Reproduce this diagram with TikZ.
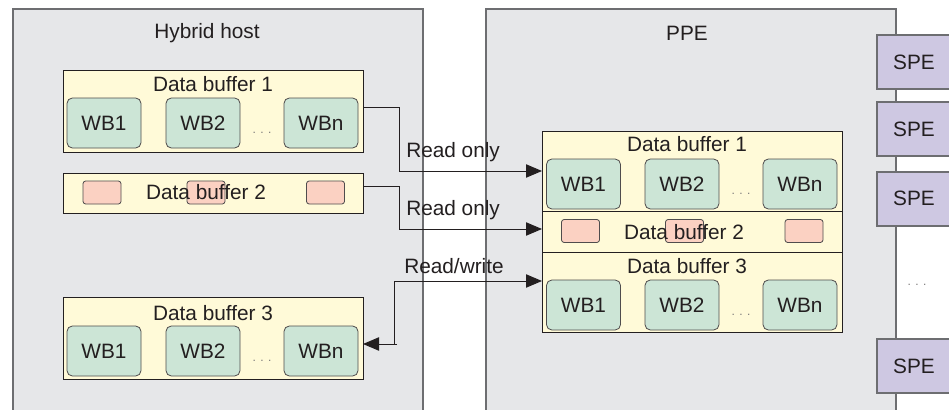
\documentclass[tikz,border=0pt]{standalone}
\usepackage{fontspec}
\setmainfont{Liberation Sans}
\usetikzlibrary{arrows.meta}
\definecolor{bggray}{HTML}{E6E7E9}
\definecolor{bordergray}{HTML}{6D6E71}
\definecolor{bufyellow}{HTML}{FFFAD8}
\definecolor{wbgreen}{HTML}{CCE5D6}
\definecolor{pinkbox}{HTML}{FBD1C2}
\definecolor{spepurple}{HTML}{CEC8E2}
\definecolor{txt}{HTML}{231F20}
\begin{document}
\begin{tikzpicture}[x=0.75pt,y=-0.75pt,
  every node/.style={text=txt,font=\fontsize{15.6}{18}\selectfont},
  container/.style={fill=bggray,draw=bordergray,line width=0.8pt},
  buffer/.style={fill=bufyellow,draw=txt,line width=0.6pt,inner sep=0,outer sep=0,
     minimum width=0.75*300,anchor=north west},
  wb/.style={fill=wbgreen,draw=txt!80,line width=0.6pt,rounded corners=4pt,inner sep=0,
     minimum width=0.75*74,minimum height=0.75*50},
  pinkb/.style={fill=pinkbox,draw=txt!80,line width=0.6pt,rounded corners=2pt,inner sep=0,
     minimum width=0.75*38,minimum height=0.75*23},
  spe/.style={fill=spepurple,draw=bordergray,line width=0.8pt,inner sep=0,outer sep=0,
     minimum width=0.75*80,minimum height=0.75*54,anchor=north west},
  dotsl/.style={text=txt!60,font=\fontsize{9}{10}\selectfont},
  conn/.style={draw=txt,line width=0.7pt,-{Triangle[length=12pt,width=10pt]}},
  lbl/.style={anchor=west,inner sep=0}]
\useasboundingbox (0,0) rectangle (949,410);
\clip (0,0) rectangle (949,410);
\fill[white] (0,0) rectangle (949,410);

% containers
\draw[container] (13,9) rectangle (423,420);
\draw[container] (486,9) rectangle (896,420);
\node at (207,33) {Hybrid host};
\node at (687,33) {PPE};

% SPEs
\node[spe] (spe1) at (877,35) {};
\node at (914,62) {SPE};
\node[spe] (spe2) at (877,102) {};
\node at (914,129) {SPE};
\node[spe] (spe3) at (877,172) {};
\node at (914,198) {SPE};
\node[dotsl] (spedots) at (917,285) {. . .};
\node[spe] (spe4) at (877,339) {};
\node at (914,366) {SPE};

% host buffers
\node[buffer,minimum height=0.75*82] (h1) at (63,70) {};
\node at (213,84) {Data buffer 1};
\node[wb] (h1a) at (104,123) {WB1};
\node[wb] (h1b) at (203,123) {WB2};
\node[dotsl] at (262,133) {. . .};
\node[wb] (h1n) at (321,123) {WBn};

\node[buffer,minimum height=0.75*40] (h2) at (63,173) {};
\node[pinkb] at (102,192.5) {};
\node[pinkb] at (206,192.5) {};
\node[pinkb] at (325.5,192.5) {};
\node at (206,192) {Data buffer 2};

\node[buffer,minimum height=0.75*82] (h3) at (63,297) {};
\node at (213,313) {Data buffer 3};
\node[wb] (h3a) at (104,351) {WB1};
\node[wb] (h3b) at (203,351) {WB2};
\node[dotsl] at (262,361) {. . .};
\node[wb] (h3n) at (321,351) {WBn};

% PPE buffers
\node[buffer,minimum height=0.75*80] (p1) at (542,131) {};
\node at (687,144) {Data buffer 1};
\node[wb] (p1a) at (583.5,184) {WB1};
\node[wb] (p1b) at (682,184) {WB2};
\node[dotsl] at (741,194) {. . .};
\node[wb] (p1n) at (800,184) {WBn};

\node[buffer,minimum height=0.75*41] (p2) at (542,211) {};
\node[pinkb] at (580.5,231) {};
\node[pinkb] at (684.5,231) {};
\node[pinkb] at (804,231) {};
\node at (684,232) {Data buffer 2};

\node[buffer,minimum height=0.75*80] (p3) at (542,252) {};
\node at (687,266) {Data buffer 3};
\node[wb] (p3a) at (583.5,305) {WB1};
\node[wb] (p3b) at (682,305) {WB2};
\node[dotsl] at (741,315) {. . .};
\node[wb] (p3n) at (800,305) {WBn};

% connectors
\draw[conn] (h1.east |- 0,107) -| (399,171) -- (p1.west |- 0,171);
\draw[conn] (h2.east |- 0,186) -| (399,229) -- (p2.west |- 0,229);
\draw[conn] (394,281) -- (p3.west |- 0,281);
\draw[draw=txt,line width=0.7pt] (397,344) -- (394,344) |- (394,281);
\draw[conn] (394,344) -- (h3.east |- 0,344);
\node[lbl] at (406,152) {Read only};
\node[lbl] at (406,210) {Read only};
\node[lbl] at (404,266) {Read/write};
\end{tikzpicture}
\end{document}
